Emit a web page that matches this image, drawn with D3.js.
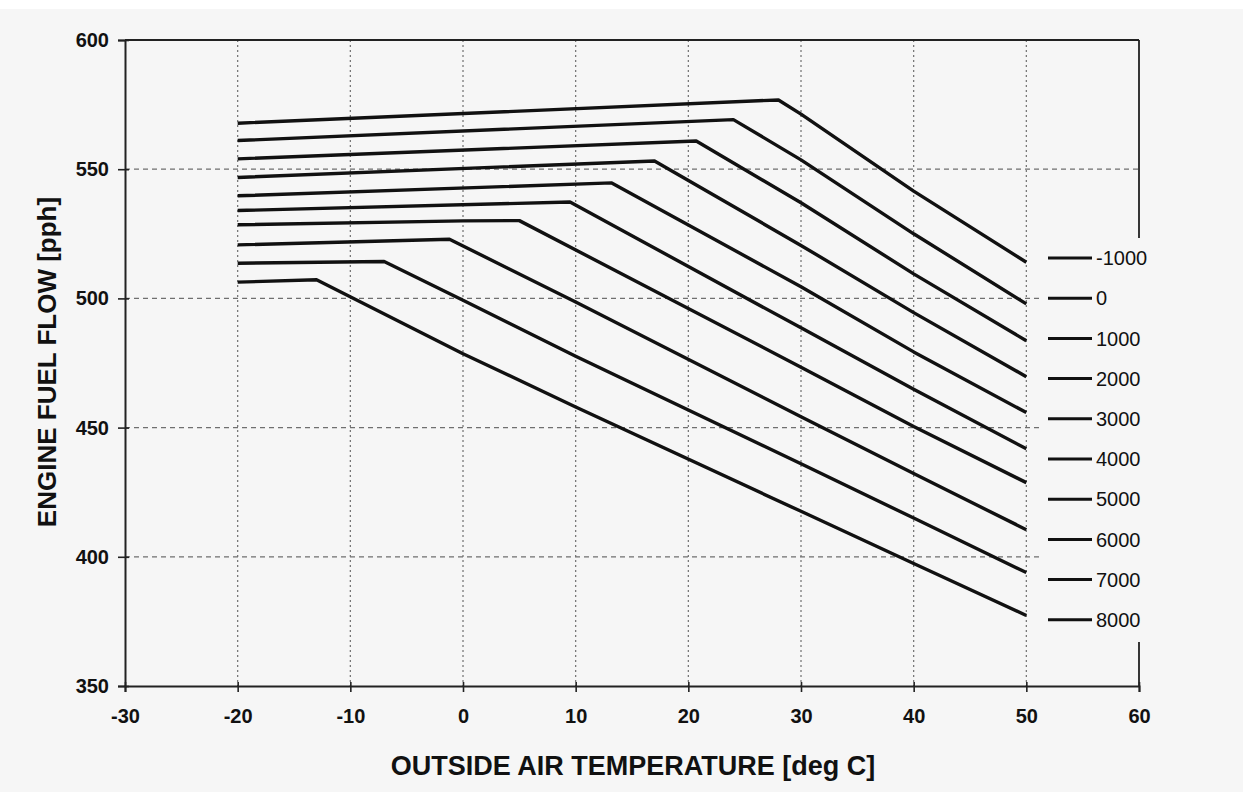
<!DOCTYPE html>
<html>
<head>
<meta charset="utf-8">
<script src="https://cdn.jsdelivr.net/npm/d3@7"></script>
<style>
  html, body { margin: 0; padding: 0; background: #ffffff; }
  svg { display: block; }
</style>
</head>
<body>
<svg id="chart" width="1243" height="792"></svg>
<script>
// ---- data ----
const xTicks = [-30, -20, -10, 0, 10, 20, 30, 40, 50, 60];
const yTicks = [350, 400, 450, 500, 550, 600];
const altitudes = ["-1000", "0", "1000", "2000", "3000", "4000", "5000", "6000", "7000", "8000"];

// each series: [outside air temperature (deg C), engine fuel flow (pph)]
const flowM1000 = [[-20, 567.8], [28, 576.8], [30, 571.3], [40, 541.5], [50, 514.0]];
const flow0     = [[-20, 561.1], [24, 569.2], [30, 553.6], [40, 525.0], [50, 497.9]];
const flow1000  = [[-20, 554.0], [20.7, 560.9], [30, 537.0], [40, 509.5], [50, 483.6]];
const flow2000  = [[-20, 546.8], [17, 553.2], [30, 520.5], [40, 494.5], [50, 469.7]];
const flow3000  = [[-20, 539.7], [13.2, 544.7], [30, 504.5], [40, 479.3], [50, 455.8]];
const flow4000  = [[-20, 534.0], [9.5, 537.3], [30, 488.6], [40, 464.8], [50, 441.8]];
const flow5000  = [[-20, 528.5], [0, 530.0], [5, 530.1], [30, 473.4], [40, 450.4], [50, 428.7]];
const flow6000  = [[-20, 520.7], [-1.2, 522.9], [10, 498.6], [30, 454.2], [40, 432.2], [50, 410.5]];
const flow7000  = [[-20, 513.6], [-7, 514.3], [0, 499.3], [10, 477.6], [30, 436.0], [40, 415.0], [50, 393.9]];
const flow8000  = [[-20, 506.3], [-13, 507.2], [0, 478.6], [10, 458.0], [30, 417.6], [40, 397.4], [50, 377.3]];
const seriesList = [flowM1000, flow0, flow1000, flow2000, flow3000, flow4000, flow5000, flow6000, flow7000, flow8000];

// ---- layout ----
const W = 1243, H = 792;
const plot = { left: 125, right: 1139, top: 40, bottom: 686 };
const bg = "#f6f6f6";
const font = "'Liberation Sans', Arial, Helvetica, sans-serif";

const svg = d3.select("#chart");
svg.append("rect").attr("x", 0).attr("y", 9).attr("width", W).attr("height", H - 9).attr("fill", bg);

const x = d3.scaleLinear().domain([-30, 60]).range([plot.left, plot.right]);
const y = d3.scaleLinear().domain([350, 600]).range([plot.bottom, plot.top]);

// grid lines
const grid = svg.append("g");
grid.selectAll("line.v").data(xTicks.slice(1, -1)).join("line")
  .attr("x1", d => x(d)).attr("x2", d => x(d))
  .attr("y1", plot.top).attr("y2", plot.bottom)
  .attr("stroke", "#6f6f6f").attr("stroke-width", 1.2).attr("stroke-dasharray", "2,3");
grid.selectAll("line.h").data(yTicks.slice(1, -1)).join("line")
  .attr("x1", plot.left).attr("x2", plot.right)
  .attr("y1", d => y(d)).attr("y2", d => y(d))
  .attr("stroke", "#6f6f6f").attr("stroke-width", 1.2).attr("stroke-dasharray", "5,4");

// top and right frame
svg.append("line").attr("x1", plot.left).attr("x2", plot.right).attr("y1", plot.top).attr("y2", plot.top)
  .attr("stroke", "#222").attr("stroke-width", 1.8);
svg.append("line").attr("x1", plot.right).attr("x2", plot.right).attr("y1", plot.top).attr("y2", plot.bottom)
  .attr("stroke", "#222").attr("stroke-width", 1.8);

// axes
const xAxis = d3.axisBottom(x).tickValues(xTicks).tickSize(6).tickPadding(17).tickFormat(d => String(d));
const yAxis = d3.axisLeft(y).tickValues(yTicks).tickSize(7).tickPadding(9).tickFormat(d => String(d));

const gx = svg.append("g").attr("transform", `translate(0,${plot.bottom})`).call(xAxis);
const gy = svg.append("g").attr("transform", `translate(${plot.left},0)`).call(yAxis);
[gx, gy].forEach(g => {
  g.select(".domain").attr("stroke", "#222").attr("stroke-width", 2);
  g.selectAll(".tick line").attr("stroke", "#222").attr("stroke-width", 1.6);
  g.selectAll(".tick text").attr("fill", "#111").attr("font-family", font)
    .attr("font-size", 20).attr("font-weight", "bold");
});
gx.selectAll(".tick line").attr("y1", -4);
gy.selectAll(".tick line").attr("x1", 4);

// series lines
const line = d3.line().x(d => x(d[0])).y(d => y(d[1]));
svg.append("g").selectAll("path").data(seriesList).join("path")
  .attr("d", line)
  .attr("fill", "none").attr("stroke", "#111").attr("stroke-width", 3.4)
  .attr("stroke-linejoin", "round").attr("stroke-linecap", "butt");

// legend
const lg = svg.append("g");
lg.append("rect").attr("x", 1040).attr("y", 238).attr("width", 120).attr("height", 404).attr("fill", bg);
const items = lg.selectAll("g.item").data(altitudes).join("g")
  .attr("transform", (d, i) => `translate(1048,${258 + i * 40.2})`);
items.append("line").attr("x1", 0).attr("x2", 44).attr("y1", 0).attr("y2", 0)
  .attr("stroke", "#111").attr("stroke-width", 3);
items.append("text").attr("x", 48).attr("y", 0).attr("dy", "0.36em")
  .attr("font-family", font).attr("font-size", 20).attr("fill", "#111")
  .text(d => d);

// axis titles
svg.append("text").attr("x", (plot.left + plot.right) / 2 + 1).attr("y", 775)
  .attr("text-anchor", "middle").attr("font-family", font).attr("font-size", 27)
  .attr("font-weight", "bold").attr("fill", "#111")
  .text("OUTSIDE AIR TEMPERATURE [deg C]");
svg.append("text").attr("transform", `translate(56,362) rotate(-90)`)
  .attr("text-anchor", "middle").attr("font-family", font).attr("font-size", 26)
  .attr("font-weight", "bold").attr("fill", "#111")
  .text("ENGINE FUEL FLOW [pph]");
</script>
</body>
</html>
